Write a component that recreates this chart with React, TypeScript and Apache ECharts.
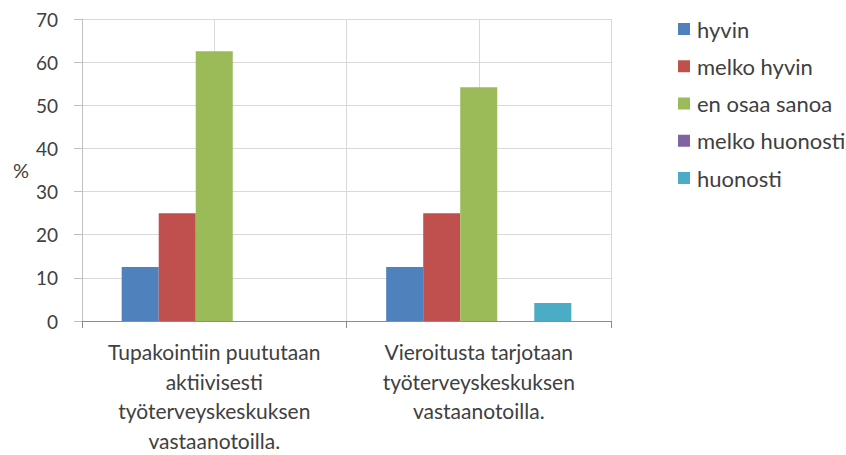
import React, { useEffect, useRef } from "react";
import * as echarts from "echarts";

const categories = [
  "Tupakointiin puututaan\naktiivisesti\ntyöterveyskeskuksen\nvastaanotoilla.",
  "Vieroitusta tarjotaan\ntyöterveyskeskuksen\nvastaanotoilla.",
];
const seriesNames = ["hyvin", "melko hyvin", "en osaa sanoa", "melko huonosti", "huonosti"];
const hyvin = [12.5, 12.5];
const melkoHyvin = [25, 25];
const enOsaaSanoa = [62.5, 54.2];
const melkoHuonosti = [0, 0];
const huonosti = [0, 4.2];
const colors = ["#4F81BD", "#C0504D", "#9BBB59", "#8064A2", "#4BACC6"];
const halfSlots = ["a", "b", "c", "d"];

export default function App() {
  const ref = useRef<HTMLDivElement>(null);
  useEffect(() => {
    if (!ref.current) return;
    const chart = echarts.init(ref.current, null, { renderer: "svg" });
    const values = [hyvin, melkoHyvin, enOsaaSanoa, melkoHuonosti, huonosti];
    const font = "Lato, 'Liberation Sans', Arial, sans-serif";
    chart.setOption({
      animation: false,
      color: colors,
      textStyle: { fontFamily: font },
      grid: { left: 82, right: 235, top: 19, bottom: 129 },
      legend: {
        orient: "vertical",
        left: 673,
        top: 13,
        itemWidth: 12,
        itemHeight: 12,
        itemGap: 15.25,
        icon: "rect",
        textStyle: { fontSize: 22, lineHeight: 22, color: "#404040", fontFamily: font, padding: [0, 0, 0, 2] },
        data: seriesNames,
      },
      xAxis: [
        {
          type: "category",
          data: categories,
          axisLine: { lineStyle: { color: "#8c8c8c", width: 1 } },
          axisTick: { show: true, length: 7, lineStyle: { color: "#8c8c8c" } },
          axisLabel: {
            color: "#404040",
            fontSize: 21,
            lineHeight: 29.5,
            margin: 16,
            interval: 0,
            fontFamily: font,
          },
          splitLine: { show: false },
        },
        {
          type: "category",
          data: halfSlots,
          position: "top",
          axisLine: { show: false },
          axisTick: { show: false },
          axisLabel: { show: false },
          splitLine: { show: true, lineStyle: { color: "#d9d9d9", width: 1 } },
        },
      ],
      yAxis: {
        type: "value",
        min: 0,
        max: 70,
        interval: 10,
        name: "%",
        nameLocation: "middle",
        nameRotate: 0,
        nameGap: 53,
        nameTextStyle: { color: "#404040", fontSize: 20, fontFamily: font },
        axisLine: { show: true, lineStyle: { color: "#bfbfbf" } },
        axisTick: { show: true, length: 8, lineStyle: { color: "#bfbfbf" } },
        axisLabel: { color: "#404040", fontSize: 19, margin: 24, fontFamily: font },
        splitLine: { show: true, lineStyle: { color: "#d9d9d9", width: 1 } },
      },
      series: seriesNames.map((name, i) => ({
        name,
        type: "bar",
        xAxisIndex: 0,
        data: values[i],
        barGap: "0%",
        barCategoryGap: "30%",
        itemStyle: { color: colors[i] },
      })),
    });
    return () => chart.dispose();
  }, []);
  return (
    <div
      ref={ref}
      style={{ position: "absolute", left: 0, top: 0, width: 846, height: 455, background: "#fff" }}
    />
  );
}
